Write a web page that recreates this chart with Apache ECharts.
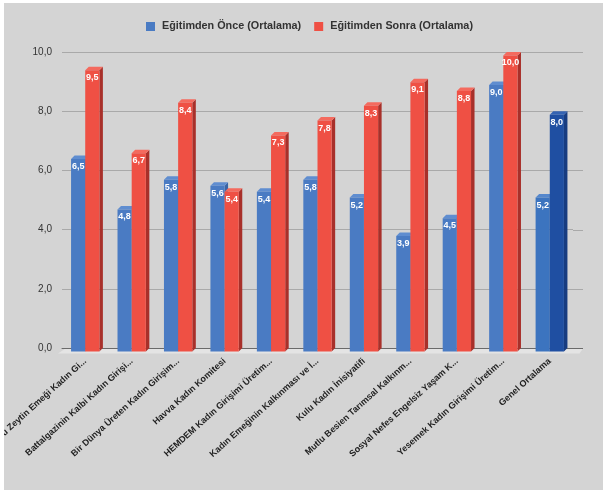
<!DOCTYPE html>
<html><head><meta charset="utf-8">
<script src="https://cdn.jsdelivr.net/npm/echarts@6/dist/echarts.min.js"></script>
<style>
html,body{margin:0;padding:0;background:#fff;width:603px;height:490px;overflow:hidden}
#c{position:absolute;left:4px;top:3px;width:599px;height:487px;background:#d4d4d4}
</style></head><body>
<div id="c"></div>
<script>
var categories = [
  "zü Zeytin Emeği Kadın Gi...",
  "Battalgazinin Kalbi Kadın Girişi...",
  "Bir Dünya Üreten Kadın Girişim...",
  "Havva Kadın Komitesi",
  "HEMDEM Kadın Girişimi Üretim...",
  "Kadın Emeğinin Kalkınması ve İ...",
  "Kulu Kadın İnisiyatifi",
  "Mutlu Besien Tarımsal Kalkınm...",
  "Sosyal Nefes Engelsiz Yaşam K...",
  "Yesemek Kadın Girişimi Üretim...",
  "Genel Ortalama"
];
var before = [6.5, 4.8, 5.8, 5.6, 5.4, 5.8, 5.2, 3.9, 4.5, 9.0, 5.2];
var after  = [9.5, 6.7, 8.4, 5.4, 7.3, 7.8, 8.3, 9.1, 8.8, 10.0, 8.0];
var seriesNames = ["Eğitimden Önce (Ortalama)", "Eğitimden Sonra (Ortalama)"];
var yTicks = {min: 0, max: 10, interval: 2};

var palettes = [
  {front:'#4a7bc3', top:'#5f8dd0', side:'#3a64a6'},
  {front:'#ef5044', top:'#f46a5e', side:'#a8302a'}
];
var highlight = [
  {front:'#3c74bf', top:'#5587cc', side:'#2f5ea0'},
  {front:'#1f4fa2', top:'#3463b3', side:'#173c80'}
];

function fmt(v){ return v.toFixed(1).replace('.', ','); }

function makeRender(si){
  return function(params, api){
    var idx = api.value(0), v = api.value(1);
    var band = api.size([1,0])[0];
    var w = band*0.305, d = 3.5, ext = 10;
    var p = api.coord([idx, v]);
    var p0 = api.coord([idx, 0]);
    var x0 = p[0] - w + si*w;
    var yT = p[1] + d, yB = p0[1] + d;
    var isLast = idx === categories.length - 1;
    var c = isLast ? highlight[si] : palettes[si];
    var children = [];
    if (si === 0 && params.dataIndex === 0) {
      var cs = params.coordSys;
      var xr = cs.x + cs.width;
      var yb = Math.round(p0[1]) + 0.5;
      children.push({type:'polygon', silent:true, shape:{points:[
        [cs.x+d, yb], [xr+ext, yb], [xr+ext-d, yb+d+1.5], [cs.x-4, yb+d+1.5]
      ]}, style:{fill:'#e4e4e4'}, z2:-1});
      for (var t = yTicks.min + yTicks.interval; t <= yTicks.max; t += yTicks.interval) {
        var yy = Math.round(api.coord([0, t])[1]) + 0.5;
        children.push({type:'line', silent:true, shape:{x1:xr, y1:yy, x2:xr+ext, y2:yy},
          style:{stroke:'#a9a9a9', lineWidth:1}});
      }
      children.push({type:'line', silent:true, shape:{x1:cs.x, y1:yb, x2:xr+ext, y2:yb},
        style:{stroke:'#6a6a6a', lineWidth:1}});
    }
    children.push({type:'polygon', shape:{points:[[x0+w,yT],[x0+w+d,yT-d],[x0+w+d,yB-d],[x0+w,yB]]}, style:{fill:c.side}});
    children.push({type:'polygon', shape:{points:[[x0,yT],[x0+d,yT-d],[x0+w+d,yT-d],[x0+w,yT]]}, style:{fill:c.top}});
    children.push({type:'rect', shape:{x:x0, y:yT, width:w, height:yB-yT}, style:{fill:c.front}});
    children.push({type:'text', style:{text:fmt(v), x:x0+w/2, y:yT+3, align:'center', verticalAlign:'top',
      fill:'#ffffff', font:'bold 9px "Liberation Sans", Arial, sans-serif'}});
    return {type:'group', children:children};
  };
}

var chart = echarts.init(document.getElementById('c'), null, {renderer:'canvas'});
chart.setOption({
  animation:false,
  backgroundColor:'#d4d4d4',
  textStyle:{fontFamily:'"Liberation Sans", Arial, sans-serif'},
  legend:{
    top:13, left:137, itemWidth:9, itemHeight:9, itemGap:13, icon:'rect',
    textStyle:{fontSize:10.8, fontWeight:'bold', color:'#333', padding:[0,0,0,2]},
    data:seriesNames
  },
  grid:{left:58, right:30, top:49, bottom:142, containLabel:false, outerBoundsMode:'none'},
  xAxis:{
    type:'category', data:categories,
    axisLine:{show:true, lineStyle:{color:'#6a6a6a', width:1}},
    axisTick:{show:false},
    axisLabel:{interval:0, rotate:42, margin:12, fontSize:9, fontWeight:'bold', color:'#222'}
  },
  yAxis:{
    type:'value', min:yTicks.min, max:yTicks.max, interval:yTicks.interval,
    axisLine:{show:false}, axisTick:{show:false},
    splitLine:{lineStyle:{color:'#a9a9a9', width:1}},
    axisLabel:{fontSize:10, color:'#333', margin:10, formatter:function(v){return fmt(v);}}
  },
  series:[
    {name:seriesNames[0], type:'custom', itemStyle:{color:palettes[0].front},
     renderItem:makeRender(0), encode:{x:0,y:1},
     data:before.map(function(v,i){return [i,v];})},
    {name:seriesNames[1], type:'custom', itemStyle:{color:palettes[1].front},
     renderItem:makeRender(1), encode:{x:0,y:1},
     data:after.map(function(v,i){return [i,v];})}
  ]
});
</script>
</body></html>
